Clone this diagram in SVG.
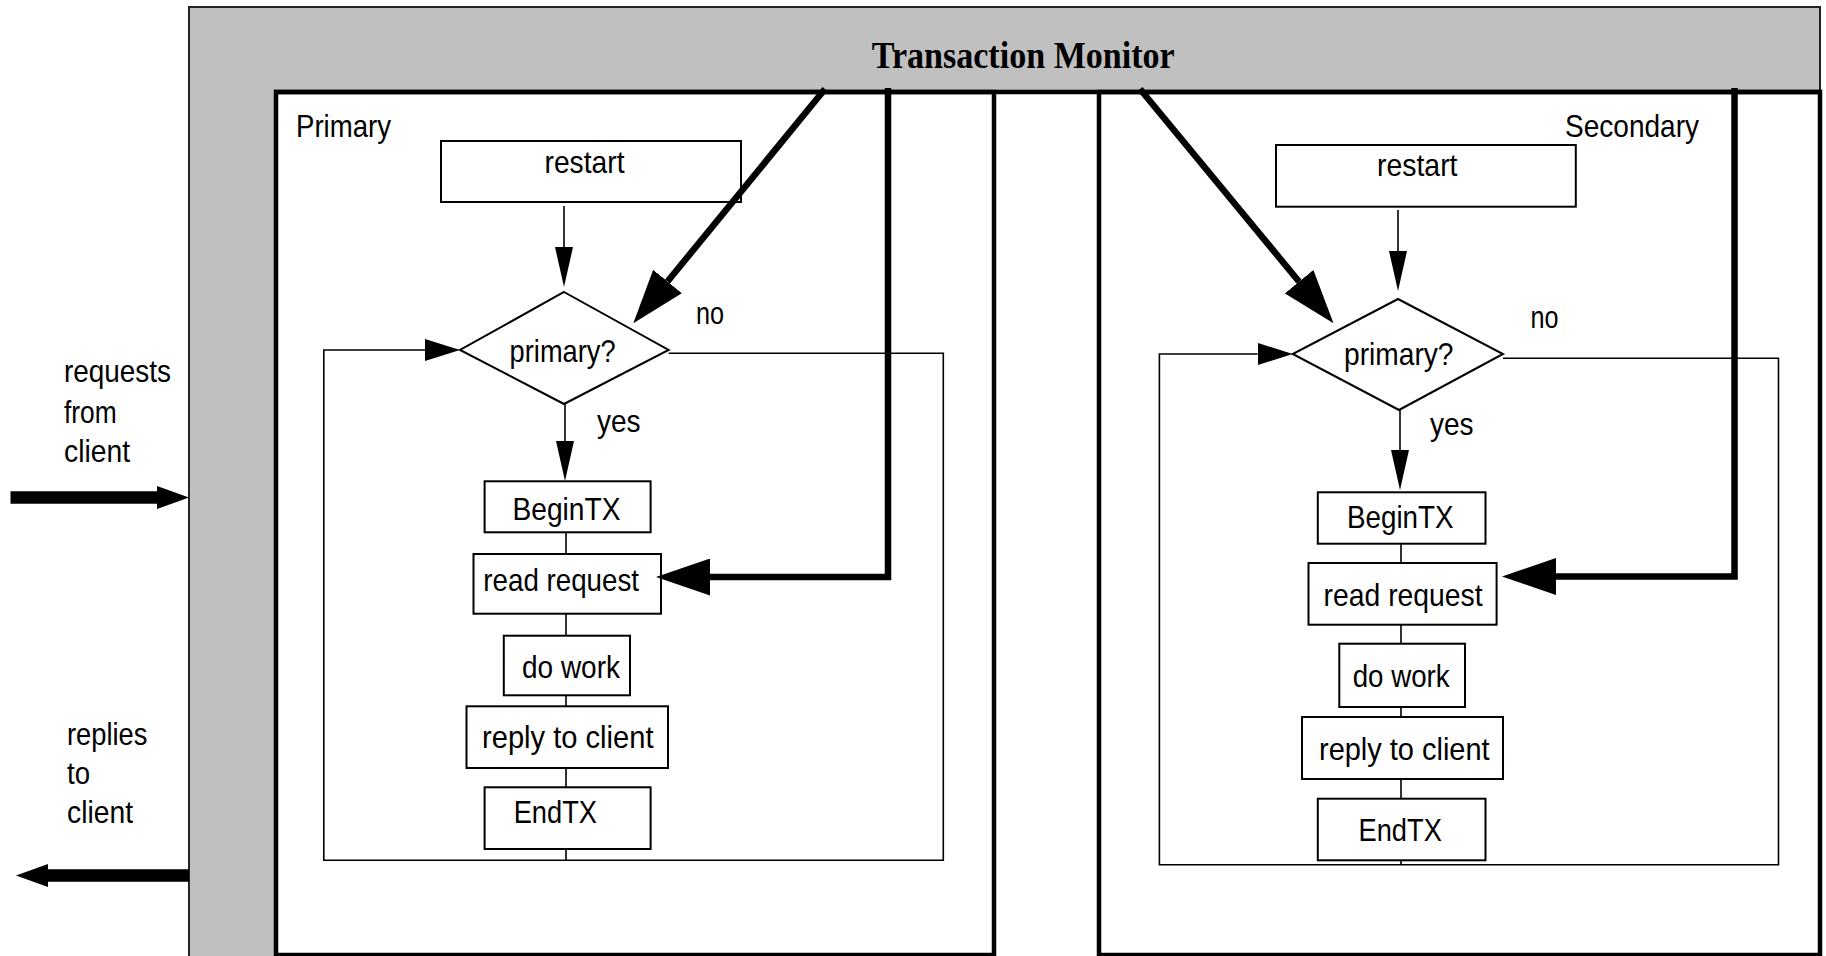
<svg xmlns="http://www.w3.org/2000/svg" width="1826" height="956" viewBox="0 0 1826 956">
  <style>
    .lbl { font-family: "Liberation Sans", Arial, sans-serif; font-size: 32px; fill: #000; }
    .title { font-family: "Liberation Serif", "Times New Roman", serif; font-size: 38px; font-weight: bold; fill: #000; }
    .box { fill: #fff; stroke: #000; stroke-width: 2; }
    .container { fill: #fff; stroke: #000; stroke-width: 4.5; }
    .thin { fill: none; stroke: #000; stroke-width: 1.6; }
    .thick { fill: none; stroke: #000; stroke-width: 6.5; stroke-linejoin: miter; }
    .client { fill: none; stroke: #000; stroke-width: 12.5; }
  </style>
  <defs>
    <marker id="headThin" markerUnits="userSpaceOnUse" markerWidth="40" markerHeight="18" viewBox="0 0 40 18" refX="0" refY="9" orient="auto">
      <path d="M0,0 L40,9 L0,18 Z" fill="#000"/>
    </marker>
    <marker id="headLoop" markerUnits="userSpaceOnUse" markerWidth="35" markerHeight="22" viewBox="0 0 35 22" refX="0" refY="11" orient="auto">
      <path d="M0,0 L35,11 L0,22 Z" fill="#000"/>
    </marker>
    <marker id="headThick" markerUnits="userSpaceOnUse" markerWidth="54" markerHeight="37" viewBox="0 0 54 37" refX="0" refY="18.5" orient="auto">
      <path d="M0,0 L54,18.5 L0,37 Z" fill="#000"/>
    </marker>
    <marker id="headClient" markerUnits="userSpaceOnUse" markerWidth="32" markerHeight="23" viewBox="0 0 32 23" refX="0" refY="11.5" orient="auto">
      <path d="M0,0 L32,11.5 L0,23 Z" fill="#000"/>
    </marker>
  </defs>

  <rect width="1826" height="956" fill="#fff"/>

  <!-- Transaction monitor frame: top band and left strip -->
  <g id="monitor">
    <path d="M189,7 H1820 V92 H276 V960 H189 Z" fill="#c0c0c0"/>
    <path d="M189,960 V7 H1820 V92" fill="none" stroke="#222" stroke-width="2"/>
    <text class="title" x="871.7" y="67.7" textLength="303" lengthAdjust="spacingAndGlyphs">Transaction Monitor</text>
  </g>

  <!-- Process containers -->
  <g id="primary">
    <rect class="container" x="276" y="92" width="718" height="863"/>
    <text class="lbl" x="296" y="137" textLength="95" lengthAdjust="spacingAndGlyphs">Primary</text>
  </g>
  <g id="secondary">
    <rect class="container" x="1099" y="92" width="721" height="863"/>
    <text class="lbl" x="1565" y="136.7" textLength="134" lengthAdjust="spacingAndGlyphs">Secondary</text>
  </g>
  <line x1="274" y1="92" x2="1822" y2="92" stroke="#000" stroke-width="4.5"/>

  <!-- Client side labels -->
  <g id="client-requests">
    <text class="lbl" x="64" y="382" textLength="107" lengthAdjust="spacingAndGlyphs">requests</text>
    <text class="lbl" x="64" y="422.7" textLength="52.7" lengthAdjust="spacingAndGlyphs">from</text>
    <text class="lbl" x="64" y="461.7" textLength="66" lengthAdjust="spacingAndGlyphs">client</text>
  </g>
  <g id="client-replies">
    <text class="lbl" x="67" y="744.7" textLength="80.4" lengthAdjust="spacingAndGlyphs">replies</text>
    <text class="lbl" x="67" y="784" textLength="23" lengthAdjust="spacingAndGlyphs">to</text>
    <text class="lbl" x="67" y="823" textLength="66" lengthAdjust="spacingAndGlyphs">client</text>
  </g>

  <!-- Primary flow -->
  <g id="p-restart">
    <rect class="box" x="441" y="141" width="300" height="61"/>
    <text class="lbl" x="544.5" y="172.7" textLength="80" lengthAdjust="spacingAndGlyphs">restart</text>
  </g>
  <g id="p-decision">
    <polygon class="box" points="564,292 668.6,350 564,404 460,350"/>
    <text class="lbl" x="509.6" y="361.7" textLength="106" lengthAdjust="spacingAndGlyphs">primary?</text>
  </g>
  <g id="p-begin">
    <rect class="box" x="484.6" y="481.3" width="166" height="51"/>
    <text class="lbl" x="512.5" y="519.7" textLength="108" lengthAdjust="spacingAndGlyphs">BeginTX</text>
  </g>
  <g id="p-read">
    <rect class="box" x="473.5" y="554" width="187.5" height="59.7"/>
    <text class="lbl" x="483.3" y="590.7" textLength="155.7" lengthAdjust="spacingAndGlyphs">read request</text>
  </g>
  <g id="p-work">
    <rect class="box" x="503.8" y="635.7" width="126.2" height="59.6"/>
    <text class="lbl" x="522" y="678" textLength="98" lengthAdjust="spacingAndGlyphs">do work</text>
  </g>
  <g id="p-reply">
    <rect class="box" x="466.5" y="706.3" width="201.5" height="61.7"/>
    <text class="lbl" x="482" y="748" textLength="171.5" lengthAdjust="spacingAndGlyphs">reply to client</text>
  </g>
  <g id="p-end">
    <rect class="box" x="484.6" y="787.3" width="166" height="61.7"/>
    <text class="lbl" x="513.7" y="823" textLength="83.3" lengthAdjust="spacingAndGlyphs">EndTX</text>
  </g>

  <!-- Secondary flow -->
  <g id="s-restart">
    <rect class="box" x="1276" y="145" width="299.8" height="61.7"/>
    <text class="lbl" x="1377" y="176" textLength="80.5" lengthAdjust="spacingAndGlyphs">restart</text>
  </g>
  <g id="s-decision">
    <polygon class="box" points="1398,299 1503,354 1399,410 1292.7,354"/>
    <text class="lbl" x="1344" y="365" textLength="109.5" lengthAdjust="spacingAndGlyphs">primary?</text>
  </g>
  <g id="s-begin">
    <rect class="box" x="1317.8" y="492.3" width="167.7" height="51.4"/>
    <text class="lbl" x="1347" y="528" textLength="106.5" lengthAdjust="spacingAndGlyphs">BeginTX</text>
  </g>
  <g id="s-read">
    <rect class="box" x="1308.5" y="563" width="188.1" height="61.7"/>
    <text class="lbl" x="1323.6" y="606.3" textLength="159" lengthAdjust="spacingAndGlyphs">read request</text>
  </g>
  <g id="s-work">
    <rect class="box" x="1339.3" y="643.7" width="125.7" height="63.3"/>
    <text class="lbl" x="1352.7" y="687" textLength="97" lengthAdjust="spacingAndGlyphs">do work</text>
  </g>
  <g id="s-reply">
    <rect class="box" x="1302" y="717" width="201" height="62"/>
    <text class="lbl" x="1319" y="759.7" textLength="170.6" lengthAdjust="spacingAndGlyphs">reply to client</text>
  </g>
  <g id="s-end">
    <rect class="box" x="1317.8" y="798.7" width="167.7" height="61.6"/>
    <text class="lbl" x="1358.5" y="840.7" textLength="83.3" lengthAdjust="spacingAndGlyphs">EndTX</text>
  </g>

  <!-- Connectors -->
  <g id="connectors">
    <!-- client traffic -->
    <path class="client" d="M10.5,497.5 H157" marker-end="url(#headClient)"/>
    <path class="client" d="M189,875.5 H48" marker-end="url(#headClient)"/>

    <!-- primary: restart, decision and transaction chain -->
    <path class="thin" d="M564,206 V247" marker-end="url(#headThin)"/>
    <path class="thin" d="M565,404 V441" marker-end="url(#headThin)"/>
    <path class="thin" d="M566,532.3 V554 M566,613.7 V635.7 M566,695.3 V706.3 M566,768 V787.3 M566,849 V860.3"/>
    <path class="thin" d="M668.6,353.3 H943.3 V860.3 H323.8 V350 H425" marker-end="url(#headLoop)"/>
    <text class="lbl" x="696" y="323.5" textLength="28" lengthAdjust="spacingAndGlyphs">no</text>
    <text class="lbl" x="597" y="431.7" textLength="43.6" lengthAdjust="spacingAndGlyphs">yes</text>

    <!-- secondary: restart, decision and transaction chain -->
    <path class="thin" d="M1398,210 V251" marker-end="url(#headThin)"/>
    <path class="thin" d="M1400,410 V450" marker-end="url(#headThin)"/>
    <path class="thin" d="M1401,543.7 V563 M1401,624.7 V643.7 M1401,707 V717 M1401,779 V798.7 M1401,860.3 V864.7"/>
    <path class="thin" d="M1503,358.3 H1778.5 V864.7 H1159.4 V354 H1257.7" marker-end="url(#headLoop)"/>
    <text class="lbl" x="1530.4" y="328.3" textLength="28" lengthAdjust="spacingAndGlyphs">no</text>
    <text class="lbl" x="1430" y="435" textLength="43.6" lengthAdjust="spacingAndGlyphs">yes</text>

    <!-- monitor control paths -->
    <path class="thick" d="M825,89 L667.5,281.5" marker-end="url(#headThick)"/>
    <path class="thick" d="M888,88 V577 H710" marker-end="url(#headThick)"/>
    <path class="thick" d="M1140,89 L1299.1,281.7" marker-end="url(#headThick)"/>
    <path class="thick" d="M1734.5,88 V576.5 H1556" marker-end="url(#headThick)"/>
  </g>
</svg>
